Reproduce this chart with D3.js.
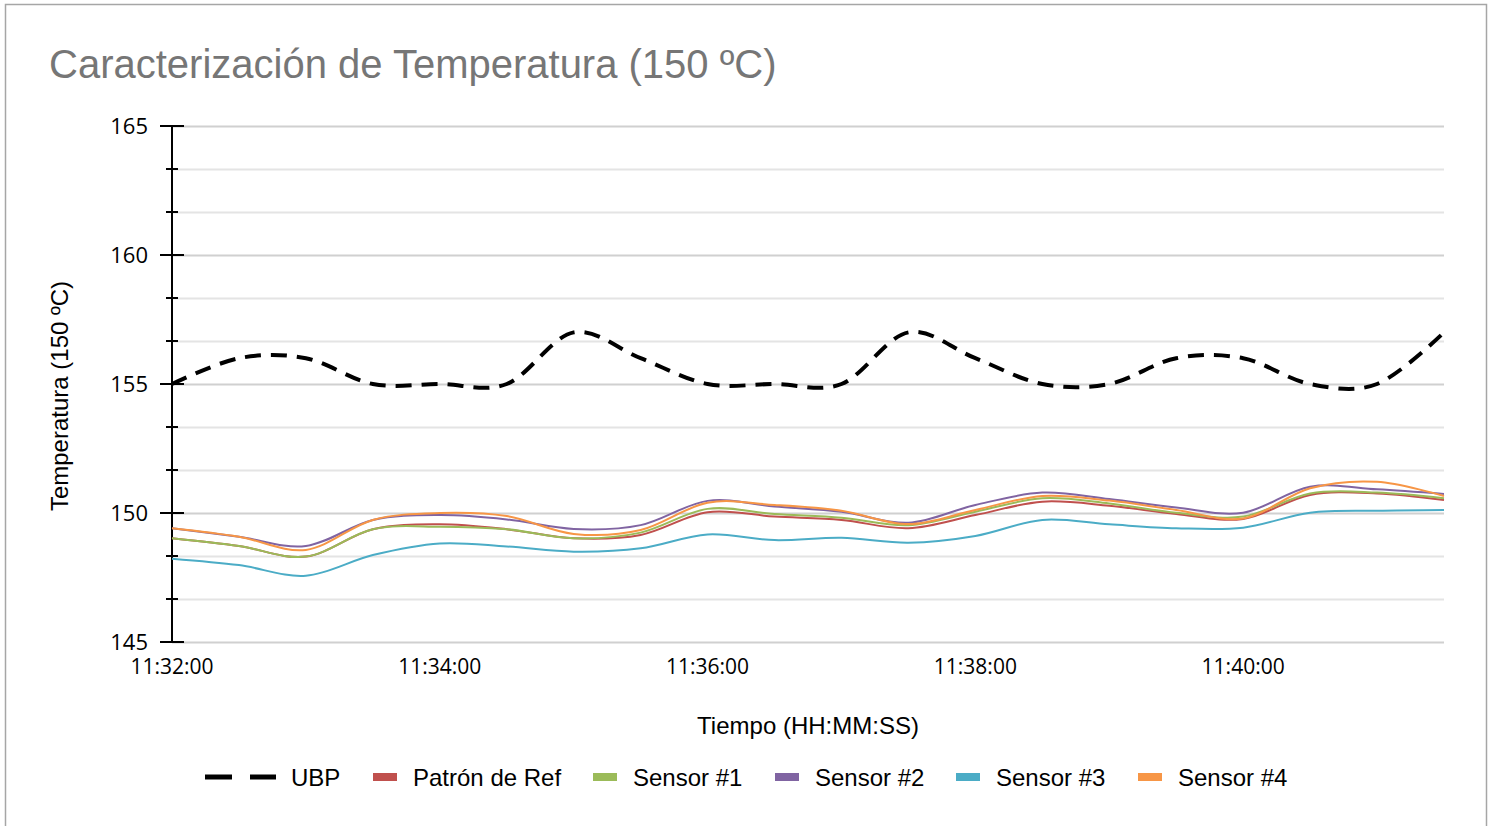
<!DOCTYPE html>
<html>
<head>
<meta charset="utf-8">
<script src="https://cdn.jsdelivr.net/npm/d3@7"></script>
<style>
  body { margin: 0; background: #fff; }
  svg { display: block; }
</style>
</head>
<body>
<div id="chart"></div>
<script>

// data (30 s sampling)
var times = ["11:32:00","11:32:30","11:33:00","11:33:30","11:34:00","11:34:30","11:35:00","11:35:30",
             "11:36:00","11:36:30","11:37:00","11:37:30","11:38:00","11:38:30","11:39:00","11:39:30",
             "11:40:00","11:40:30","11:41:00","11:41:30"];

var ubp     = [155,156,156,155,155,155,157,156,155,155,155,157,156,155,155,156,156,155,155,157];
var patron  = [149.02,148.72,148.31,149.37,149.56,149.37,149.02,149.15,150.03,149.86,149.73,149.41,149.92,150.44,150.28,149.96,149.77,150.70,150.76,150.50];
var sensor1 = [149.02,148.72,148.31,149.37,149.47,149.37,149.02,149.24,150.16,149.96,149.82,149.53,150.05,150.57,150.37,150.01,149.86,150.76,150.79,150.57];
var sensor2 = [149.41,149.08,148.72,149.73,149.92,149.75,149.38,149.53,150.47,150.25,150.05,149.62,150.31,150.79,150.54,150.21,150.01,151.02,150.92,150.74];
var sensor3 = [148.23,147.98,147.57,148.37,148.82,148.70,148.50,148.63,149.17,148.95,149.04,148.85,149.11,149.73,149.56,149.41,149.43,150.01,150.09,150.12];
var sensor4 = [149.41,149.08,148.57,149.73,150.00,149.88,149.19,149.34,150.40,150.31,150.09,149.57,150.12,150.66,150.48,150.12,149.79,150.96,151.21,150.66];

var seriesNames = ["UBP","Patrón de Ref","Sensor #1","Sensor #2","Sensor #3","Sensor #4"];
var seriesValues = [ubp, patron, sensor1, sensor2, sensor3, sensor4];
var colors = ["#000000","#C0504D","#9BBB59","#8064A2","#4BACC6","#F79646"];

var yMajor = [145,150,155,160,165];

//====================================================================================

var W = 1493, H = 826;
var margin = {top: 126, right: 49, bottom: 184, left: 172};

var svg = d3.select("#chart").append("svg")
    .attr("width", W)
    .attr("height", H);

// outer frame
svg.append("rect")
    .attr("x", 5.5).attr("y", 4.5)
    .attr("width", 1481).attr("height", 900)
    .attr("fill", "#fff")
    .attr("stroke", "#a6a6a6")
    .attr("stroke-width", 1.5);

svg.append("text")
    .attr("x", 49).attr("y", 78)
    .attr("fill", "#767676")
    .style("font-family", "Liberation Sans, Arial, sans-serif")
    .style("font-size", "40px")
    .text("Caracterización de Temperatura (150 ºC)");

var parseT = d3.timeParse("%H:%M:%S");
var tdates = times.map(parseT);

var x = d3.scaleTime()
    .domain(d3.extent(tdates))
    .range([margin.left, W - margin.right]);

var y = d3.scaleLinear()
    .domain([145, 165])
    .range([H - margin.bottom, margin.top]);

// gridlines every 5/3 degree (12 steps)
var gridVals = d3.range(0, 13).map(function(i){ return 145 + i * 20 / 12; });

svg.append("g").selectAll("line")
    .data(gridVals)
    .enter().append("line")
    .attr("x1", margin.left).attr("x2", W - margin.right)
    .attr("y1", function(d){ return Math.round(y(d)) + 0.5; })
    .attr("y2", function(d){ return Math.round(y(d)) + 0.5; })
    .attr("stroke", function(d, i){ return i % 3 === 0 ? "#d0d0d0" : "#e4e4e4"; })
    .attr("stroke-width", 2);

// y axis line + ticks
var yAxisG = svg.append("g");
yAxisG.append("line")
    .attr("x1", margin.left).attr("x2", margin.left)
    .attr("y1", y(165)).attr("y2", y(145))
    .attr("stroke", "#000").attr("stroke-width", 2);

yAxisG.selectAll("line.tick")
    .data(gridVals)
    .enter().append("line")
    .attr("class", "tick")
    .attr("x1", function(d, i){ return margin.left - (i % 3 === 0 ? 12 : 6); })
    .attr("x2", function(d, i){ return margin.left + (i % 3 === 0 ? 12 : 6); })
    .attr("y1", function(d){ return y(d); })
    .attr("y2", function(d){ return y(d); })
    .attr("stroke", "#000").attr("stroke-width", 2);

yAxisG.selectAll("text")
    .data(yMajor)
    .enter().append("text")
    .attr("x", 148)
    .attr("y", function(d){ return y(d) + 8; })
    .attr("text-anchor", "end")
    .style("font-family", "Open Sans, Noto Sans, sans-serif")
    .style("font-size", "22px")
    .text(function(d){ return d; });

// x tick labels
var xTicks = x.ticks(d3.timeMinute.every(2));
svg.append("g").selectAll("text")
    .data(xTicks)
    .enter().append("text")
    .attr("x", function(d){ return x(d); })
    .attr("y", 674)
    .attr("text-anchor", "middle")
    .style("font-family", "Open Sans, Noto Sans, sans-serif")
    .style("font-size", "21px")
    .text(d3.timeFormat("%H:%M:%S"));

// axis titles
svg.append("text")
    .attr("x", 808).attr("y", 734)
    .attr("text-anchor", "middle")
    .style("font-family", "Liberation Sans, Arial, sans-serif")
    .style("font-size", "24px")
    .text("Tiempo (HH:MM:SS)");

svg.append("text")
    .attr("transform", "translate(68,396) rotate(-90)")
    .attr("text-anchor", "middle")
    .style("font-family", "Liberation Sans, Arial, sans-serif")
    .style("font-size", "24px")
    .text("Temperatura (150 ºC)");

//===================================lines=====================================

var line = d3.line()
    .x(function(d, i){ return x(tdates[i]); })
    .y(function(d){ return y(d); })
    .curve(d3.curveCatmullRom.alpha(0));

seriesValues.forEach(function(vals, k){
    svg.append("path")
        .datum(vals)
        .attr("fill", "none")
        .attr("stroke", colors[k])
        .attr("stroke-width", k === 0 ? 4 : 2)
        .attr("stroke-dasharray", k === 0 ? "16,10" : null)
        .attr("d", line);
});

//===================================legend=====================================

var legendX = [205, 373, 593, 775, 956, 1138];
var lg = svg.append("g");
seriesNames.forEach(function(name, k){
    if (k === 0) {
        lg.append("line")
            .attr("x1", legendX[k]).attr("x2", legendX[k] + 71)
            .attr("y1", 777).attr("y2", 777)
            .attr("stroke", "#000").attr("stroke-width", 5)
            .attr("stroke-dasharray", "27,18");
        lg.append("text")
            .attr("x", legendX[k] + 86).attr("y", 786)
            .style("font-family", "Liberation Sans, Arial, sans-serif")
            .style("font-size", "24px")
            .text(name);
    } else {
        lg.append("rect")
            .attr("x", legendX[k]).attr("y", 773)
            .attr("width", 24).attr("height", 8)
            .attr("fill", colors[k]);
        lg.append("text")
            .attr("x", legendX[k] + 40).attr("y", 786)
            .style("font-family", "Liberation Sans, Arial, sans-serif")
            .style("font-size", "24px")
            .text(name);
    }
});

</script>
</body>
</html>
